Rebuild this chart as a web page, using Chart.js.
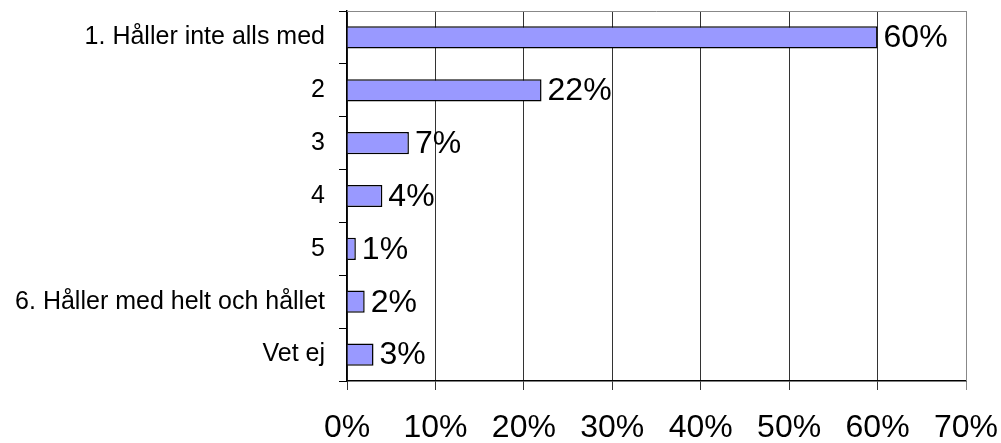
<!DOCTYPE html>
<html>
<head>
<meta charset="utf-8">
<script src="https://cdn.jsdelivr.net/npm/chart.js@4"></script>
<style>
html, body { margin: 0; padding: 0; background: #fff; }
#wrap { width: 1001px; height: 443px; }
</style>
</head>
<body>
<div id="wrap"><canvas id="barchart"></canvas></div>
<script>
const categories = ["1. Håller inte alls med", "2", "3", "4", "5", "6. Håller med helt och hållet", "Vet ej"];
const percents = [60, 22, 7, 4, 1, 2, 3];
const tickMax = 70;
const tickStep = 10;

const fontFamily = '"Liberation Sans", Arial, sans-serif';

// value labels right of the bars + top/right frame
const barLabels = {
    id: 'barLabels',
    afterDatasetsDraw(chart) {
        const ctx = chart.ctx;
        const area = chart.chartArea;
        ctx.save();
        ctx.strokeStyle = '#888';
        ctx.lineWidth = 1;
        ctx.beginPath();
        ctx.moveTo(area.left, area.top + 0.5);
        ctx.lineTo(area.right + 0.5, area.top + 0.5);
        ctx.lineTo(area.right + 0.5, area.bottom);
        ctx.stroke();
        ctx.fillStyle = '#000';
        ctx.font = '32px ' + fontFamily;
        ctx.textAlign = 'left';
        ctx.textBaseline = 'middle';
        chart.getDatasetMeta(0).data.forEach((bar, i) => {
            ctx.fillText(percents[i] + '%', bar.x + 6, bar.y + 1);
        });
        ctx.restore();
    }
};

new Chart(document.getElementById('barchart'), {
    type: 'bar',
    data: {
        labels: categories,
        datasets: [
            {
                data: percents,
                backgroundColor: '#9999ff',
                borderColor: '#000',
                borderWidth: 1.5,
                categoryPercentage: 1,
                barPercentage: 0.42
            }
        ]
    },
    options: {
        indexAxis: 'y',
        responsive: true,
        maintainAspectRatio: false,
        animation: false,
        layout: { padding: { top: 11, right: 35, left: 0, bottom: 0 } },
        plugins: {
            legend: { display: false },
            tooltip: { enabled: false }
        },
        scales: {
            x: {
                min: 0,
                max: tickMax,
                afterFit(scale) {
                    scale.height = 62;
                    scale.paddingLeft = 0;
                    scale.paddingRight = 0;
                },
                ticks: {
                    stepSize: tickStep,
                    color: '#000',
                    padding: 19,
                    maxRotation: 0,
                    autoSkip: false,
                    font: { family: fontFamily, size: 32 },
                    callback: v => v + '%'
                },
                grid: {
                    color: ctx => ctx.tick && ctx.tick.value === tickMax ? '#888' : '#333',
                    lineWidth: 1,
                    tickLength: 9
                },
                border: { color: '#000', width: 1.5 }
            },
            y: {
                afterFit(scale) {
                    scale.width = 347;
                    scale.paddingTop = 0;
                    scale.paddingBottom = 0;
                },
                ticks: {
                    color: '#000',
                    padding: 14,
                    autoSkip: false,
                    font: { family: fontFamily, size: 25 }
                },
                grid: {
                    offset: true,
                    drawOnChartArea: false,
                    color: '#000',
                    tickLength: 8
                },
                border: { color: '#000', width: 1.5 }
            }
        }
    },
    plugins: [barLabels]
});
</script>
</body>
</html>
